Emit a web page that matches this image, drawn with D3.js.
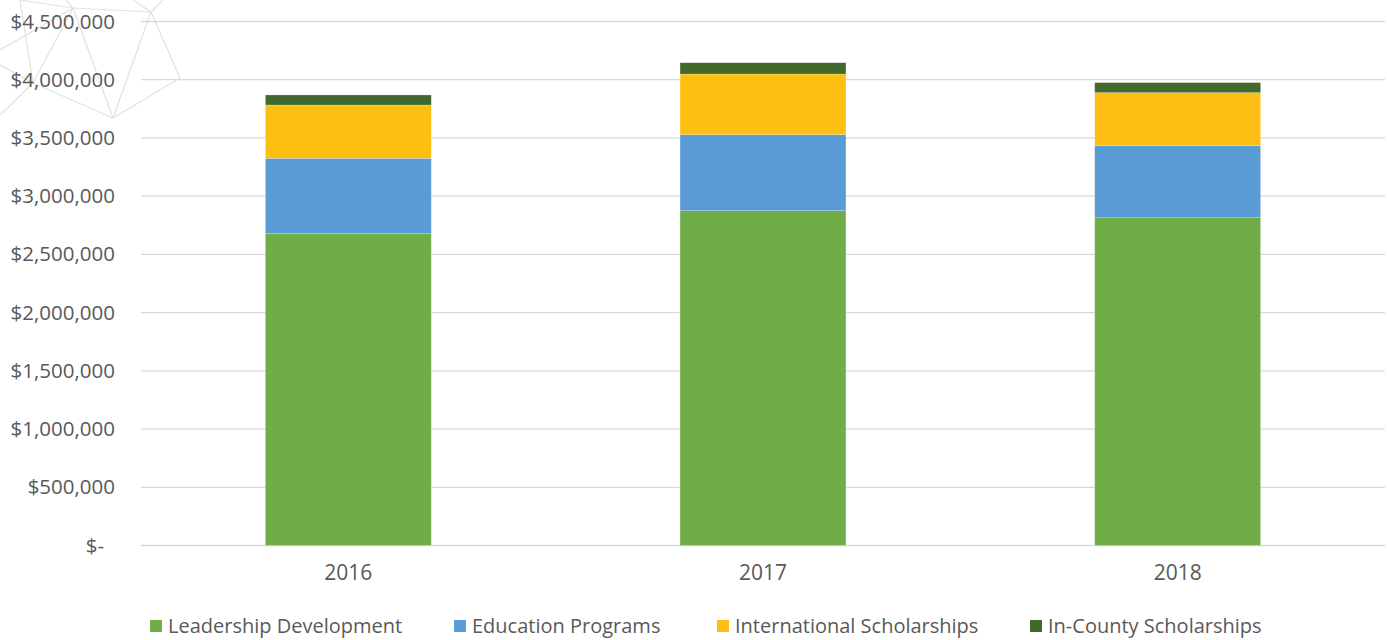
<!DOCTYPE html>
<html>
<head>
<meta charset="utf-8">
<script src="https://cdn.jsdelivr.net/npm/d3@7"></script>
<style>
  body { margin: 0; background: #fff; }
</style>
</head>
<body>
<div id="chart-area"></div>
<script>
// data
var years = ['2016', '2017', '2018']
var series = ['Leadership Development', 'Education Programs', 'International Scholarships', 'In-County Scholarships']
var leadership = [2678000, 2875000, 2815000]
var education = [647000, 653000, 618000]
var international = [458000, 521000, 456000]
var inCounty = [86000, 97000, 86000]
var yTicks = [0, 500000, 1000000, 1500000, 2000000, 2500000, 3000000, 3500000, 4000000, 4500000]
var colors = ['#70AD47', '#5B9BD5', '#FDBF12', '#43682B']

var W = 1387, H = 640
var margin = { top: 21.5, left: 141, bottom: 94.5, right: 2 }
var width = W - margin.left - margin.right
var height = H - margin.top - margin.bottom
var legendX = [150, 454, 717, 1030]

var rows = years.map((y, i) => ({
  year: y,
  'Leadership Development': leadership[i],
  'Education Programs': education[i],
  'International Scholarships': international[i],
  'In-County Scholarships': inCounty[i]
}))
var stacked = d3.stack().keys(series)(rows)

var svg = d3.select('#chart-area').append('svg')
  .attr('width', W)
  .attr('height', H)
  .style('display', 'block')
  .attr('font-family', '"Open Sans", "Noto Sans", "DejaVu Sans", sans-serif')

// faint decorative polygon lines in the corner
var deco = [
  [[73, 8], [151, 12]], [[151, 12], [180, 78]], [[180, 78], [113, 118]], [[113, 118], [151, 12]],
  [[73, 8], [113, 118]], [[73, 8], [20, 0]], [[73, 8], [66, 0]], [[151, 12], [163, 0]],
  [[151, 12], [133, 0]], [[0, 50], [73, 8]], [[33, 83], [73, 8]], [[20, 0], [33, 83]],
  [[33, 83], [113, 118]], [[0, 65], [33, 83]], [[33, 83], [0, 115]]
]
svg.append('g').selectAll('line').data(deco).enter().append('line')
  .attr('x1', d => d[0][0]).attr('y1', d => d[0][1])
  .attr('x2', d => d[1][0]).attr('y2', d => d[1][1])
  .attr('stroke', '#dde5da').attr('stroke-width', 1.2)

var g = svg.append('g').attr('transform', `translate(${margin.left}, ${margin.top})`)

var x = d3.scaleBand().domain(years).range([0, width]).paddingInner(0.6).paddingOuter(0.3)
var y = d3.scaleLinear().domain([0, 4500000]).range([height, 0])

// gridlines
g.append('g').selectAll('line').data(yTicks).enter().append('line')
  .attr('x1', 0).attr('x2', width)
  .attr('y1', d => y(d)).attr('y2', d => y(d))
  .attr('stroke', '#d9d9d9').attr('stroke-width', 1.3)

// y axis labels
var yAxis = d3.axisLeft(y).tickValues(yTicks).tickSize(0).tickPadding(26)
  .tickFormat(d => d === 0 ? '$-' : '$' + d3.format(',')(d))
var yAxisGroup = g.append('g').call(yAxis)
yAxisGroup.select('.domain').remove()
yAxisGroup.attr('font-family', null).attr('font-size', null)
yAxisGroup.selectAll('text')
  .attr('fill', '#595959').attr('font-size', '20.5px')
  .attr('dx', d => d === 0 ? -11 : 0)

// x axis labels
var xAxis = d3.axisBottom(x).tickSize(0).tickPadding(20)
var xAxisGroup = g.append('g').attr('transform', `translate(0, ${height})`).call(xAxis)
xAxisGroup.select('.domain').remove()
xAxisGroup.attr('font-family', null).attr('font-size', null)
xAxisGroup.selectAll('text').attr('fill', '#595959').attr('font-size', '21px')

// stacked bars
g.append('g').selectAll('g').data(stacked).enter().append('g')
    .attr('fill', (d, i) => colors[i])
  .selectAll('rect').data(d => d).enter().append('rect')
    .attr('x', d => x(d.data.year))
    .attr('width', x.bandwidth())
    .attr('y', d => y(d[1]))
    .attr('height', d => y(d[0]) - y(d[1]))
    .attr('stroke', '#ffffff').attr('stroke-opacity', 0.35).attr('stroke-width', 0.6)

// legend
var legend = svg.append('g').attr('transform', 'translate(0, 626)')
var items = legend.selectAll('g').data(series).enter().append('g')
  .attr('transform', (d, i) => `translate(${legendX[i]}, 0)`)
items.append('rect').attr('x', 0).attr('y', -6).attr('width', 12).attr('height', 12)
  .attr('fill', (d, i) => colors[i])
items.append('text').attr('x', 18).attr('y', 0).attr('dy', '0.35em')
  .attr('fill', '#595959').attr('font-size', '20px').text(d => d)
</script>
</body>
</html>
